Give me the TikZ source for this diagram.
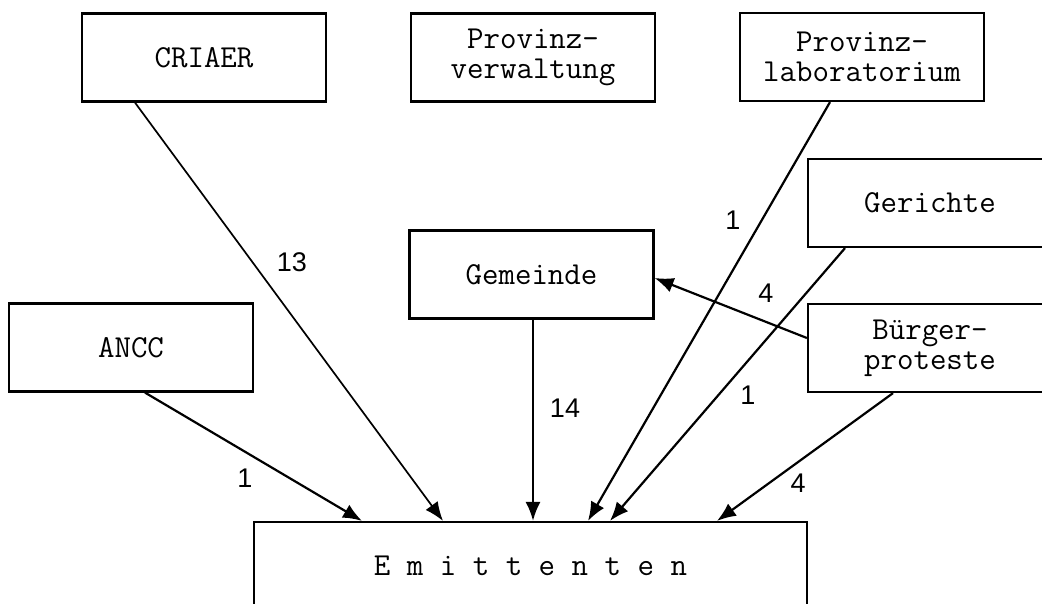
\documentclass[tikz,border=0pt]{standalone}
\usepackage{fontspec}
\newfontfamily\numfont{Liberation Sans}
\usetikzlibrary{arrows.meta}
\begin{document}
\begin{tikzpicture}[x=1pt,y=-1pt,
  box/.style={draw,line width=2.2pt,minimum width=244pt,minimum height=88pt,
    inner sep=0pt,align=center,font=\fontsize{32}{30}\selectfont\ttfamily},
  flow/.style={line width=2.2pt,-{Latex[length=19pt,width=15pt]}},
  num/.style={font=\fontsize{27}{27}\selectfont\numfont}]
% page of the scan, boxes on the right run over its edge
\clip (0,0) rectangle (1042,603);
\node[box] (criaer) at (204,57.5) {CRIAER};
\node[box] (provverw) at (533,57.5) {Provinz-\\verwaltung};
\node[box] (provlab) at (862,57) {Provinz-\\laboratorium};
\node[box] (gerichte) at (930,203) {Gerichte};
\node[box] (gemeinde) at (531.5,274.5) {Gemeinde};
\node[box] (ancc) at (131,347.5) {ANCC};
\node[box] (buerger) at (930,348) {B\"urger-\\proteste};
\node[box,minimum width=553pt] (emit) at (530.5,566) {E m i t t e n t e n};
\draw[flow,line width=1.7pt] ([xshift=-69pt]criaer.south) -- ([xshift=-87.5pt]emit.north);
\draw[flow] ([xshift=14pt]ancc.south) -- ([xshift=-168.5pt]emit.north);
\draw[flow] ([xshift=1.5pt]gemeinde.south) -- ([xshift=2.5pt]emit.north);
\draw[flow] ([xshift=-32pt]provlab.south) -- ([xshift=57.5pt]emit.north);
\draw[flow] ([xshift=-85pt]gerichte.south) -- ([xshift=79.5pt]emit.north);
\draw[flow] ([xshift=-37pt]buerger.south) -- ([xshift=186.5pt]emit.north);
\draw[flow] ([yshift=10pt]buerger.west) -- ([yshift=-3.5pt]gemeinde.east);
\node[num] (n13) at (292,262) {13};
\node[num] (nancc) at (245,478) {1};
\node[num] (n14) at (565,408) {14};
\node[num] (nlab) at (733,220) {1};
\node[num] (nger) at (748,395) {1};
\node[num] (ngem) at (766,293) {4};
\node[num] (nbue) at (798,483) {4};
\end{tikzpicture}
\end{document}
